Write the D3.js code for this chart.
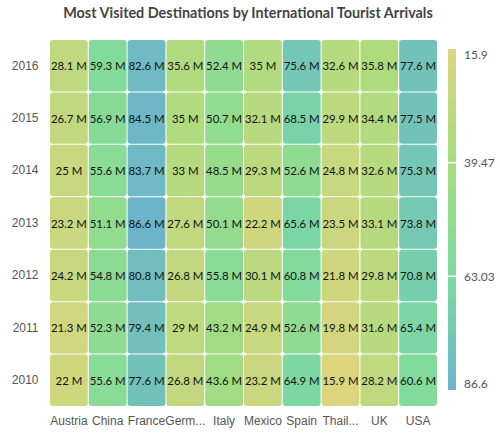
<!DOCTYPE html>
<html><head><meta charset="utf-8">
<script src="https://cdn.jsdelivr.net/npm/d3@7/dist/d3.min.js"></script>
<style>body{margin:0;background:#fff;} svg{display:block;font-family:"Lato","Open Sans",sans-serif;}</style>
</head><body><svg id="c" width="500" height="438"></svg>
<script>
const countries = ["Austria","China","France","Germany","Italy","Mexico","Spain","Thailand","UK","USA"];
const years = ["2016","2015","2014","2013","2012","2011","2010"];
// values per country, years 2016..2010
const austria  = [28.1,26.7,25,23.2,24.2,21.3,22];
const china    = [59.3,56.9,55.6,51.1,54.8,52.3,55.6];
const france   = [82.6,84.5,83.7,86.6,80.8,79.4,77.6];
const germany  = [35.6,35,33,27.6,26.8,29,26.8];
const italy    = [52.4,50.7,48.5,50.1,55.8,43.2,43.6];
const mexico   = [35,32.1,29.3,22.2,30.1,24.9,23.2];
const spain    = [75.6,68.5,52.6,65.6,60.8,52.6,64.9];
const thailand = [32.6,29.9,24.8,23.5,21.8,19.8,15.9];
const uk       = [35.8,34.4,32.6,33.1,29.8,31.6,28.2];
const usa      = [77.6,77.5,75.3,73.8,70.8,65.4,60.6];
const seriesValues = [austria,china,france,germany,italy,mexico,spain,thailand,uk,usa];
const legendTicks = [15.9,39.47,63.03,86.6];
const paletteColors = ["#DCD57E","#A6DC7E","#7CDBA0","#6DB3CA"];

const svg = d3.select("#c");
const M = {left:49.5, right:437.5, top:39.5, bottom:406.5};
const x = d3.scaleBand().domain(countries).range([M.left,M.right]);
const y = d3.scaleBand().domain(years).range([M.top,M.bottom]);
const color = d3.scaleLinear().domain(legendTicks).range(paletteColors).interpolate(d3.interpolateRgb);

svg.append("text").attr("x",248).attr("y",18).attr("text-anchor","middle")
  .attr("font-size",14.4).attr("font-weight",700).attr("fill","#444")
  .text("Most Visited Destinations by International Tourist Arrivals");

const cells = [];
countries.forEach((c,i)=>years.forEach((yr,j)=>cells.push({c,yr,v:seriesValues[i][j]})));

const g = svg.append("g");
g.selectAll("rect").data(cells).enter().append("rect")
  .attr("x",d=>x(d.c)+0.5).attr("y",d=>y(d.yr)+0.5)
  .attr("width",x.bandwidth()-1).attr("height",y.bandwidth()-1)
  .attr("rx",3).attr("fill",d=>color(d.v));
g.selectAll("text").data(cells).enter().append("text")
  .attr("x",d=>x(d.c)+x.bandwidth()/2).attr("y",d=>y(d.yr)+y.bandwidth()/2)
  .attr("text-anchor","middle").attr("dominant-baseline","central")
  .attr("font-size",11.4).attr("fill","#111")
  .text(d=>d.v+" M");

// y axis labels
const yAxis = d3.axisLeft(y).tickSize(0).tickPadding(11);
const ya = svg.append("g").attr("transform",`translate(${M.left},0)`).call(yAxis);
ya.select(".domain").remove();
ya.selectAll("text").attr("font-size",12).attr("fill","#555").attr("font-family","inherit");

// x axis labels
const xAxis = d3.axisBottom(x).tickSize(0).tickPadding(10);
const xa = svg.append("g").attr("transform",`translate(0,${M.bottom})`).call(xAxis);
xa.select(".domain").remove();
xa.selectAll("text").attr("font-size",12).attr("fill","#555").attr("font-family","inherit")
  .each(function(d){
    const t=d3.select(this); const maxW=x.bandwidth()+2;
    if(this.getComputedTextLength()>maxW){
      let s=d;
      while(s.length>1){ s=s.slice(0,-1); t.text(s+"..."); if(this.getComputedTextLength()<=maxW) break; }
    }
  });

// legend
const ly = d3.scaleLinear().domain([legendTicks[0],legendTicks[3]]).range([49,390]);
const defs = svg.append("defs");
const grad = defs.append("linearGradient").attr("id","lg").attr("x1",0).attr("x2",0).attr("y1",0).attr("y2",1);
legendTicks.forEach((t,i)=>grad.append("stop").attr("offset",(ly(t)-49)/341).attr("stop-color",paletteColors[i]));
svg.append("rect").attr("x",448).attr("y",49).attr("width",8).attr("height",341).attr("fill","url(#lg)");
legendTicks.forEach((t,i)=>{
  if(i>0 && i<legendTicks.length-1){
    svg.append("line").attr("x1",448).attr("x2",460).attr("y1",ly(t)).attr("y2",ly(t)).attr("stroke","#fff").attr("stroke-width",1.5);
  }
  svg.append("text").attr("x",464).attr("y",ly(t)).attr("font-size",12).attr("fill","#555")
    .attr("dominant-baseline", i===0?"hanging": (i===legendTicks.length-1?"auto":"central"))
    .attr("dy", i===0?"0":(i===legendTicks.length-1?"-2":"0"))
    .text(t);
});
</script></body></html>
